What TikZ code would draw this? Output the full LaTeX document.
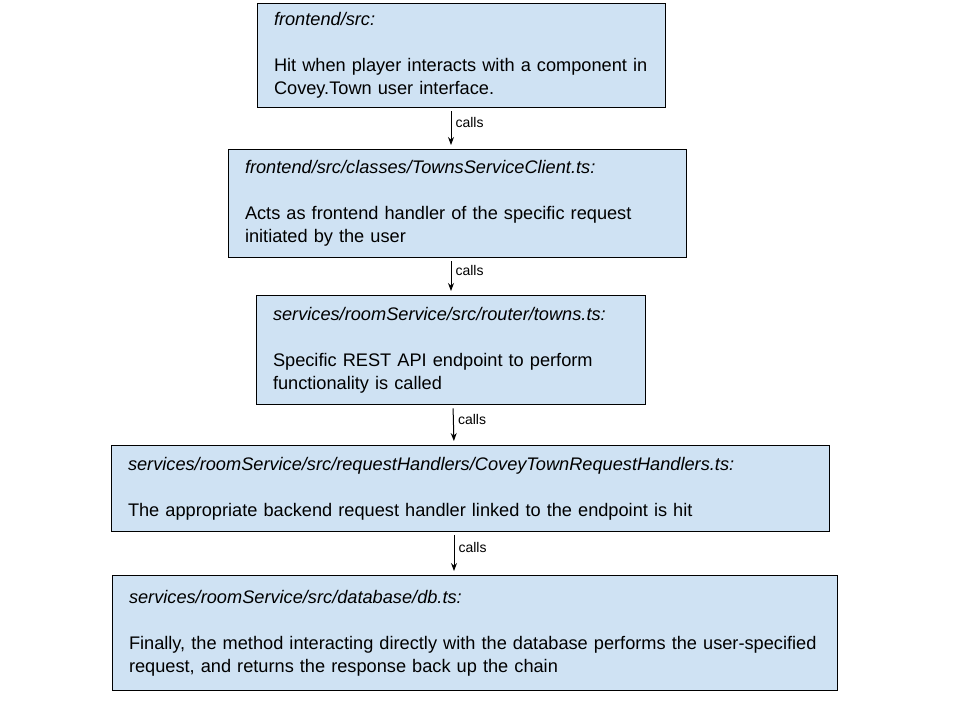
\documentclass[tikz,border=0pt]{standalone}
\usepackage{fontspec}
\setmainfont{Liberation Sans}
\usepackage{xcolor}
\usetikzlibrary{arrows.meta,positioning}
\definecolor{boxfill}{HTML}{CFE2F3}

\begin{document}
\begin{tikzpicture}[
  x=0.5pt, y=-0.5pt,
  box/.style={draw=black, line width=0.5pt, fill=boxfill, align=left,
              inner xsep=8.5pt, inner ysep=0pt, font=\fontsize{9.1}{11.5}\selectfont},
  arr/.style={-{Stealth[length=4pt, width=3pt]}, line width=0.5pt,
              shorten <=1.7pt, shorten >=2pt},
  lbl/.style={font=\fontsize{7}{8}\selectfont, anchor=west, inner sep=2pt, yshift=3pt}
]
\useasboundingbox (0,0) rectangle (960,720);
\node[box, text width=187pt, minimum height=52pt] (src) at (461,55.5)
  {\textit{frontend/src:}\\[11.5pt]Hit when player interacts with a component in\\Covey.Town user interface.};
\node[box, text width=212pt, minimum height=54pt] (client) at (457,203.5)
  {\textit{frontend/src/classes/TownsServiceClient.ts:}\\[11.5pt]Acts as frontend handler of the specific request\\initiated by the user};
\node[box, text width=177.5pt, minimum height=54.5pt] (router) at (450.5,350)
  {\textit{services/roomService/src/router/towns.ts:}\\[11.5pt]Specific REST API endpoint to perform\\functionality is called};
\node[box, text width=342pt, minimum height=43pt] (handler) at (470,488.5)
  {\textit{services/roomService/src/requestHandlers/CoveyTownRequestHandlers.ts:}\\[11.5pt]The appropriate backend request handler linked to the endpoint is hit};
\node[box, text width=345.5pt, minimum height=57.5pt] (db) at (474.5,633)
  {\textit{services/roomService/src/database/db.ts:}\\[11.5pt]Finally, the method interacting directly with the database performs the user-specified\\request, and returns the response back up the chain};
% calls
\draw[arr] ([xshift=-5pt]src.south) -- node[lbl] {calls} ([xshift=-3pt]client.north);
\draw[arr] ([xshift=-3pt]client.south) -- node[lbl] {calls} ([xshift=0.25pt]router.north);
\draw[arr] ([xshift=1.25pt]router.south) -- node[lbl] {calls} ([xshift=-8pt]handler.north);
\draw[arr] ([xshift=-8pt]handler.south) -- node[lbl] {calls} ([xshift=-10.25pt]db.north);
\end{tikzpicture}
\end{document}
